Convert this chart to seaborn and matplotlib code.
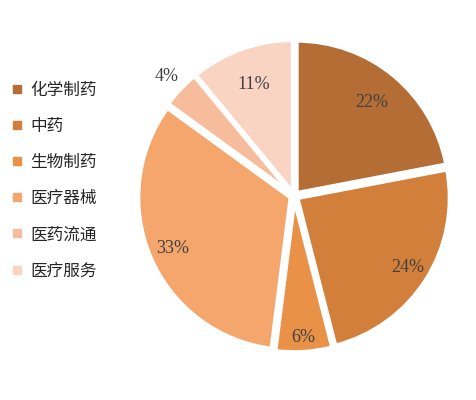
import matplotlib
matplotlib.use("Agg")
import matplotlib.pyplot as plt
import seaborn as sns
import numpy as np
from matplotlib.lines import Line2D

sns.set_theme(style="white")
plt.rcParams['font.family'] = ['Noto Sans CJK SC', 'DejaVu Sans']

categories = ["化学制药", "中药", "生物制药", "医疗器械", "医药流通", "医疗服务"]
values = [22, 24, 6, 33, 4, 11]
colors = ["#B46D35", "#D27F3B", "#EA9148", "#F4A66C", "#F6BC9C", "#F9D4C2"]
label_radius = [0.80, 0.88, 0.93, 0.87, 1.15, 0.78]

fig = plt.figure(figsize=(4.76, 4.0), dpi=100)
ax = fig.add_axes([0.288, 0.1175, 0.660, 0.785])
wedges, _ = ax.pie(values, colors=colors, startangle=90, counterclock=False,
                   explode=[0.025] * len(values),
                   wedgeprops=dict(edgecolor="white", linewidth=3))
ax.set_aspect("equal")
ax.set_xlim(-1.03, 1.03)
ax.set_ylim(-1.03, 1.03)

for w, v, r in zip(wedges, values, label_radius):
    ang = np.deg2rad((w.theta1 + w.theta2) / 2)
    ax.text(r * np.cos(ang), r * np.sin(ang), f"{v}%", ha="center", va="center",
            fontsize=13, color="#404040", family=["Liberation Serif"])

handles = [Line2D([0], [0], marker="s", linestyle="", markersize=5.5,
                  markerfacecolor=c, markeredgecolor=c) for c in colors]
fig.legend(handles, categories, loc="upper left", bbox_to_anchor=(0.0, 0.825),
           frameon=False, fontsize=12, handlelength=0.6, handletextpad=0.5,
           labelspacing=1.15, borderaxespad=0.3)

fig.savefig("out.png", dpi=100)
